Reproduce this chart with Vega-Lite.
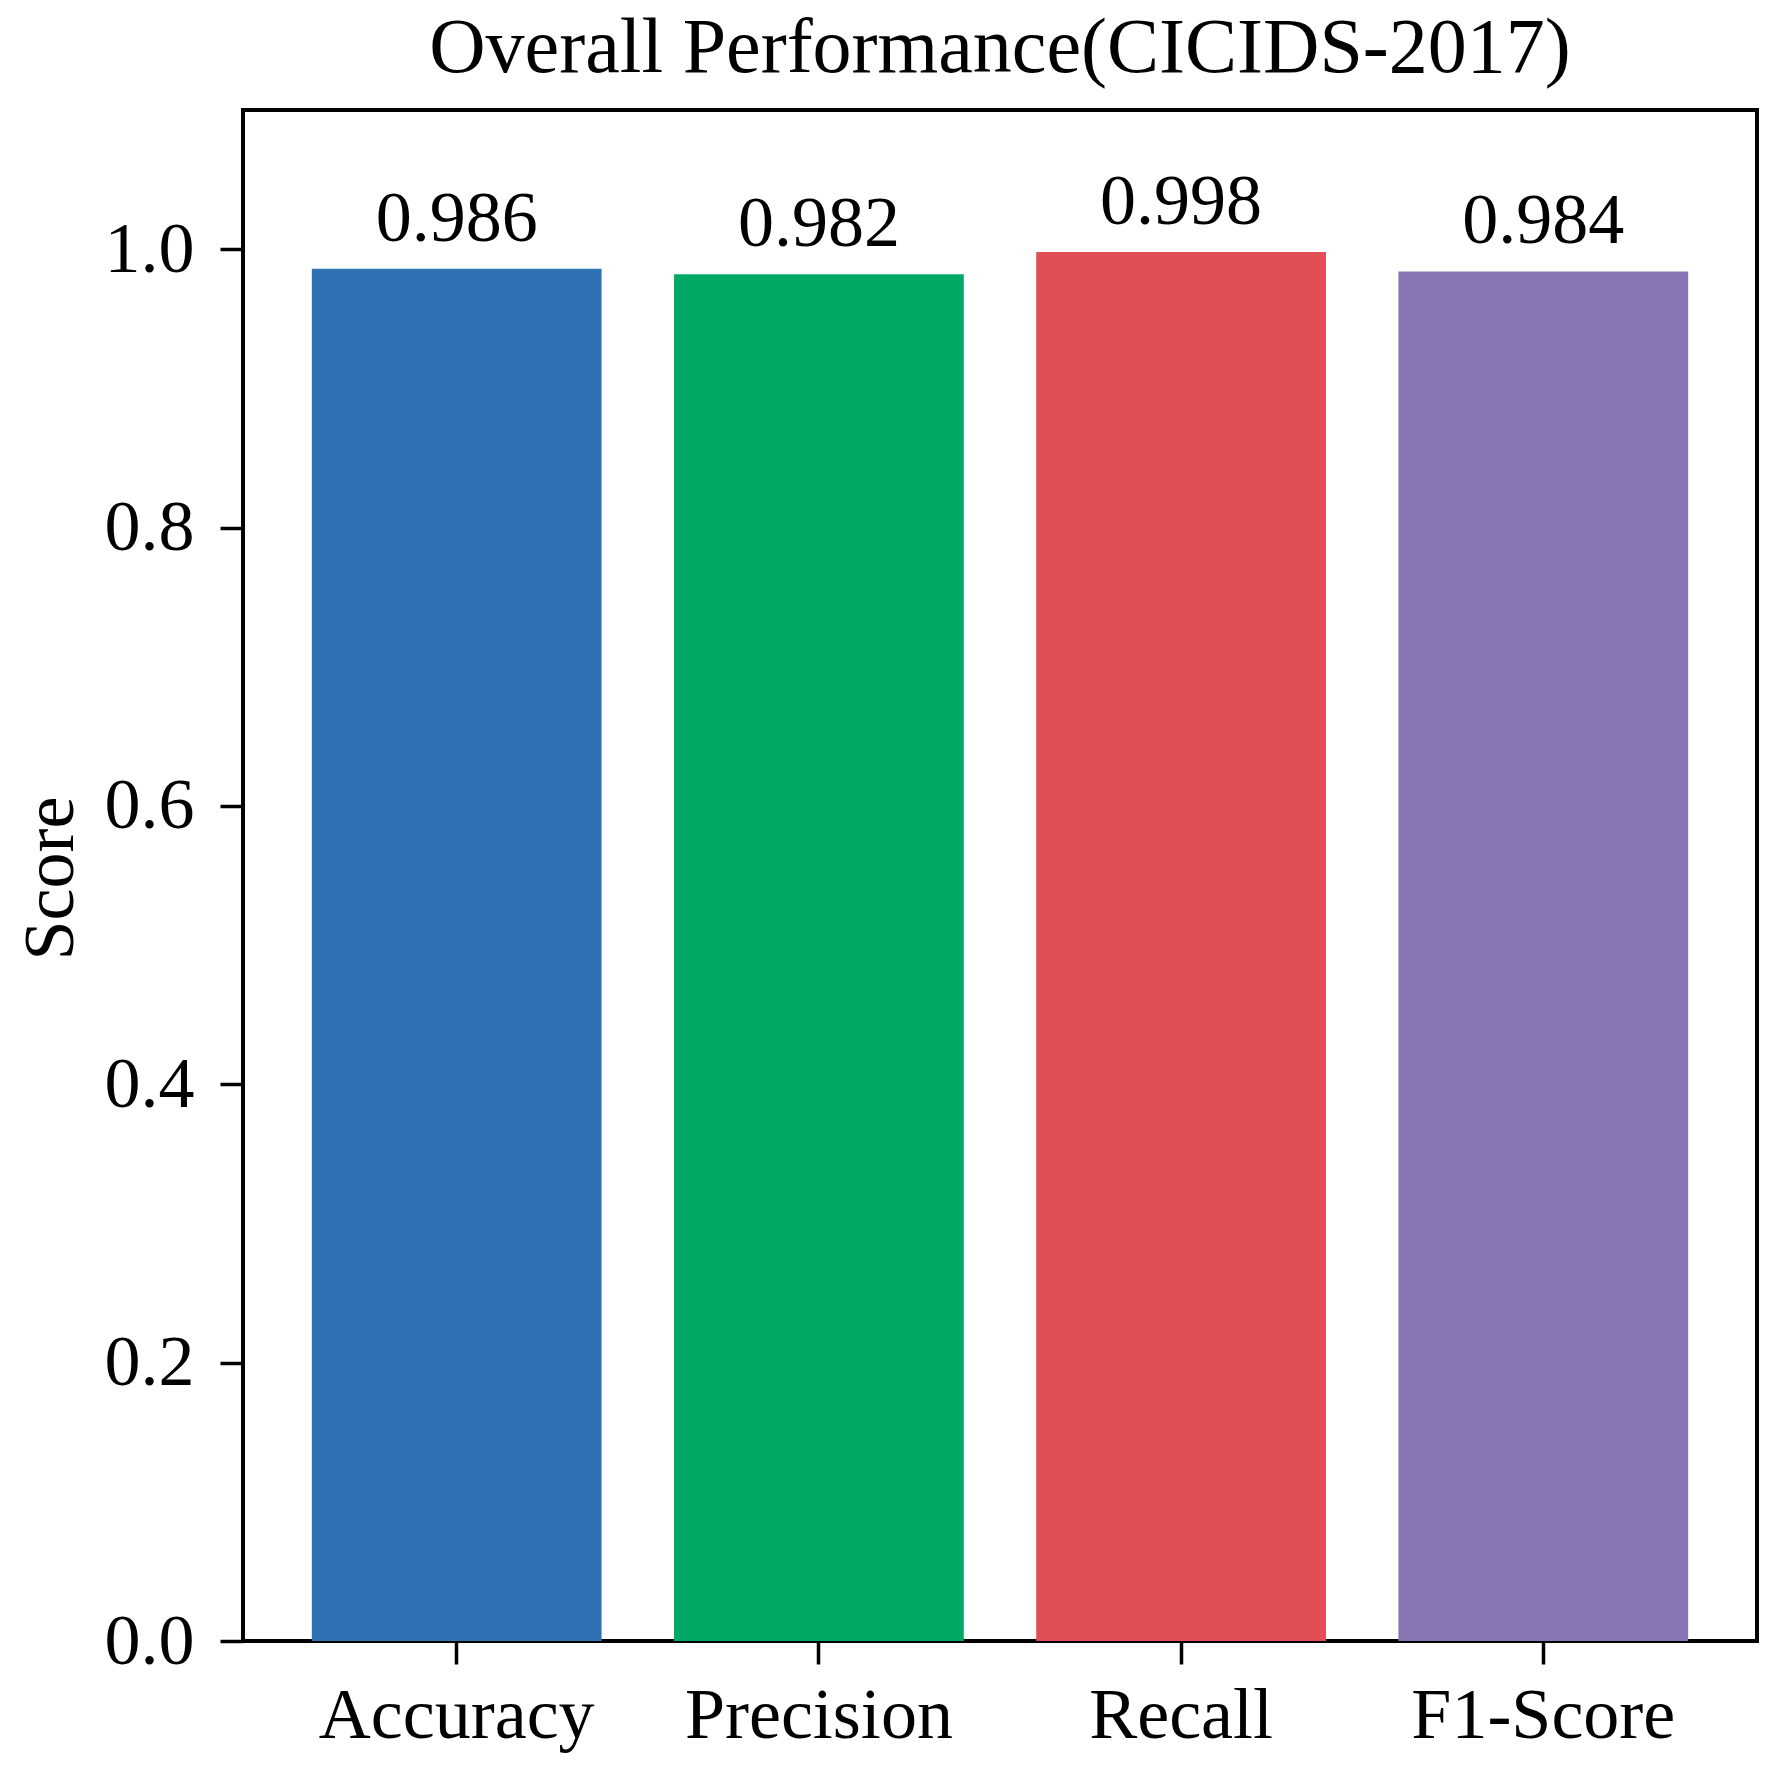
{
  "$schema": "https://vega.github.io/schema/vega-lite/v6.json",
  "autosize": "none",
  "width": 1514,
  "height": 1531,
  "padding": {"left": 243, "top": 110, "right": 14, "bottom": 124},
  "background": "white",
  "config": {
    "font": "Liberation Serif",
    "view": {"stroke": "black", "strokeWidth": 4},
    "axis": {"grid": false, "domain": false, "tickColor": "black", "tickWidth": 3.5, "tickSize": 23, "labelColor": "black", "labelFont": "Liberation Serif", "titleFont": "Liberation Serif", "titleColor": "black", "titleFontWeight": "normal", "labelLimit": 1000}
  },
  "title": {"text": "Overall Performance(CICIDS-2017)", "font": "Liberation Serif", "fontSize": 78, "fontWeight": "normal", "color": "black", "anchor": "middle", "frame": "group", "baseline": "alphabetic", "offset": 0, "dy": 40},
  "data": {"values": [
    {"metric": "Accuracy", "score": 0.986},
    {"metric": "Precision", "score": 0.982},
    {"metric": "Recall", "score": 0.998},
    {"metric": "F1-Score", "score": 0.984}
  ]},
  "encoding": {
    "x": {"field": "metric", "type": "nominal", "sort": null,
      "scale": {"paddingInner": 0.2, "paddingOuter": 0.19},
      "axis": {"title": null, "labelAngle": 0, "labelFontSize": 72, "labelBaseline": "alphabetic", "labelPadding": 73, "labelLimit": 1000}},
    "y": {"field": "score", "type": "quantitative",
      "scale": {"domain": [0, 1.1], "nice": false, "zero": true},
      "axis": {"title": "Score", "titleFontSize": 72, "titleAngle": -90, "titleBaseline": "alphabetic", "titleX": -171, "titleY": 768, "titleAlign": "center", "values": [0, 0.2, 0.4, 0.6, 0.8, 1.0], "format": ".1f", "labelFontSize": 72, "labelPadding": 26}}
  },
  "layer": [
    {"mark": {"type": "bar"},
     "encoding": {"color": {"field": "metric", "type": "nominal", "legend": null,
       "scale": {"domain": ["Accuracy", "Precision", "Recall", "F1-Score"], "range": ["#2e72b3", "#00a864", "#e24e55", "#8874b2"]}}}},
    {"mark": {"type": "text", "baseline": "alphabetic", "align": "center", "dy": -28, "fontSize": 72, "font": "Liberation Serif", "color": "black"},
     "encoding": {"text": {"field": "score", "type": "quantitative", "format": ".3f"}}}
  ]
}
